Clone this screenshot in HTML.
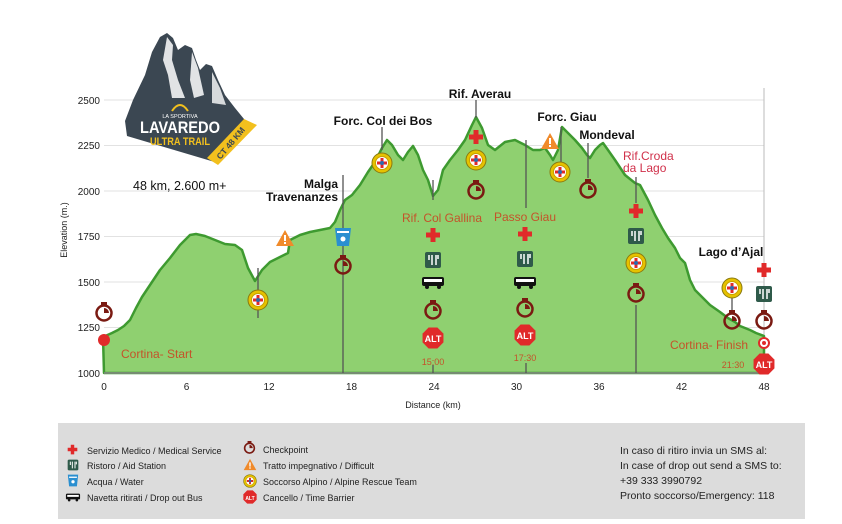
<!DOCTYPE html>
<html><head><meta charset="utf-8"><style>
body{margin:0;background:#fff;width:842px;height:519px;overflow:hidden;font-family:"Liberation Sans",sans-serif}
</style></head><body>
<svg width="842" height="519" viewBox="0 0 842 519" xmlns="http://www.w3.org/2000/svg" font-family="Liberation Sans, sans-serif">
<defs>
<symbol id="cross" viewBox="-8 -8 16 16"><path d="M-2.5-7h5v4.5h4.5v5h-4.5v4.5h-5v-4.5h-4.5v-5h4.5z" fill="#e02a2a"/></symbol>
<symbol id="aid" viewBox="-9 -9 18 18"><rect x="-8" y="-8" width="16" height="16" rx="2" fill="#2f5a4a"/><path d="M-4-5v5M-1-5v10M3-5v10M5-5v4" stroke="#fff" stroke-width="1.5"/></symbol>
<symbol id="water" viewBox="-9 -10 18 20"><path d="M-8-9h16l-2 18h-12z" fill="#2a8fd0"/><rect x="-6" y="-6" width="12" height="2" fill="#fff"/><circle cx="0" cy="2" r="2.5" fill="#fff"/></symbol>
<symbol id="bus" viewBox="-12 -7 24 14"><rect x="-11" y="-6" width="22" height="9" rx="2" fill="#111"/><rect x="-9" y="-4" width="18" height="3" fill="#fff"/><circle cx="-6" cy="4" r="2" fill="#111"/><circle cx="6" cy="4" r="2" fill="#111"/></symbol>
<symbol id="clock" viewBox="-10 -11 20 22"><rect x="-3" y="-10" width="6" height="3" fill="#7a1a12"/><circle cx="0" cy="1" r="7.5" fill="none" stroke="#7a1a12" stroke-width="2.5"/><path d="M0 1V-4A5 5 0 0 1 5 1z" fill="#7a1a12"/></symbol>
<symbol id="warn" viewBox="-10 -9 20 18"><path d="M0-8L9 8H-9z" fill="#f08a2a"/><rect x="-1" y="-3" width="2" height="6" fill="#fff"/><rect x="-1" y="4" width="2" height="2" fill="#fff"/></symbol>
<symbol id="resc" viewBox="-11 -11 22 22"><circle r="10" fill="#e6c200" stroke="#8a7a10" stroke-width="1"/><circle r="6.5" fill="#fff" stroke="#c8a000"/><path d="M-1.5-5h3v3.5h3.5v3h-3.5v3.5h-3v-3.5h-3.5v-3h3.5z" fill="#e02a2a"/><circle r="2" fill="#2a6ab0"/></symbol>
<symbol id="alt" viewBox="-10 -10 20 20"><path d="M-4-9.5h8l5.5 5.5v8l-5.5 5.5h-8l-5.5-5.5v-8z" fill="#e02a2a"/></symbol>
</defs>

<!-- grid -->
<g stroke="#e2e2e2" stroke-width="1">
<line x1="104" x2="764" y1="100" y2="100"/><line x1="104" x2="764" y1="145.5" y2="145.5"/><line x1="104" x2="764" y1="191" y2="191"/><line x1="104" x2="764" y1="236.5" y2="236.5"/><line x1="104" x2="764" y1="282" y2="282"/><line x1="104" x2="764" y1="327.5" y2="327.5"/>
</g>
<line x1="764" y1="88" x2="764" y2="373" stroke="#bbb"/>

<!-- profile -->
<path d="M104,373 L103,337 112,333 118,330 124,326 130,320 136,308 142,297 150,285 160,270 170,258 180,245 190,235 196,234 205,236 215,240 225,244 235,245 242,250 248,268 255,281 262,270 270,262 280,257 288,253 290,240 300,235 310,232 320,230 330,228 335,222 340,210 345,200 352,195 360,185 368,172 375,162 382,148 387,140 392,145 398,155 403,160 408,152 413,146 418,155 423,170 428,180 433,196 438,190 443,170 450,160 458,150 465,140 472,125 476,117 482,128 488,145 495,150 505,142 515,140 525,145 533,150 540,150 545,148 550,155 553,160 558,150 562,127 568,133 575,140 582,148 587,155 590,158 595,150 600,145 603,143 608,150 615,160 625,175 635,183 640,185 648,200 655,215 662,228 668,238 675,248 680,258 685,263 690,280 695,290 700,295 710,305 720,312 728,318 735,322 740,326 750,330 756,333 764,336 764,373 Z" fill="#8fd070" stroke="#3e9a30" stroke-width="2.5" stroke-linejoin="round"/>
<line x1="104" y1="373" x2="764" y2="373" stroke="#888" stroke-width="1.5"/>

<!-- marker lines -->
<g stroke="#555" stroke-width="1.3">
<line x1="343" y1="175" x2="343" y2="373"/>
<line x1="382" y1="127" x2="382" y2="150"/>
<line x1="433" y1="180" x2="433" y2="200"/><line x1="433" y1="365" x2="433" y2="373"/>
<line x1="476" y1="100" x2="476" y2="118"/>
<line x1="526" y1="140" x2="526" y2="208"/><line x1="526" y1="363" x2="526" y2="373"/>
<line x1="561" y1="127" x2="561" y2="165"/>
<line x1="588" y1="143" x2="588" y2="178"/>
<line x1="636" y1="177" x2="636" y2="203"/><line x1="636" y1="305" x2="636" y2="373"/>
<line x1="732" y1="295" x2="732" y2="313"/>
<line x1="258" y1="268" x2="258" y2="318"/>
</g>

<!-- axes labels -->
<g font-size="10" fill="#222" text-anchor="end">
<text x="100" y="104">2500</text><text x="100" y="149">2250</text><text x="100" y="195">2000</text><text x="100" y="240">1750</text><text x="100" y="286">1500</text><text x="100" y="331">1250</text><text x="100" y="377">1000</text>
</g>
<g font-size="10" fill="#222" text-anchor="middle">
<text x="104" y="390">0</text><text x="186.5" y="390">6</text><text x="269" y="390">12</text><text x="351.5" y="390">18</text><text x="434" y="390">24</text><text x="516.5" y="390">30</text><text x="599" y="390">36</text><text x="681.5" y="390">42</text><text x="764" y="390">48</text>
<text x="433" y="408" font-size="9">Distance (km)</text>
</g>
<text transform="translate(67,230) rotate(-90)" font-size="9" text-anchor="middle" fill="#222">Elevation (m.)</text>

<!-- logo -->
<path d="M125,121 L133,100 145,75 152,52 160,37 167,33 173,38 178,50 185,45 192,48 196,60 200,70 206,64 212,66 218,80 225,95 235,108 244,119 252,128 218,163 127,136 Z" fill="#3b4752"/>
<path d="M167,37 L173,45 172,60 178,80 185,98 172,98 168,75 163,60 Z" fill="#fff" opacity="0.85"/>
<path d="M192,52 L198,68 204,95 194,98 190,80 Z" fill="#fff" opacity="0.85"/>
<path d="M212,72 L220,88 226,105 212,103 Z" fill="#fff" opacity="0.8"/>
<path d="M207,158 L244,119 257,125 218,165 Z" fill="#f2c01e"/>
<text x="180" y="133" font-size="17" font-weight="bold" fill="#fff" text-anchor="middle" textLength="80" lengthAdjust="spacingAndGlyphs">LAVAREDO</text>
<text x="180" y="145" font-size="11" font-weight="bold" fill="#f2c01e" text-anchor="middle" textLength="60" lengthAdjust="spacingAndGlyphs">ULTRA TRAIL</text>
<text x="180" y="118" font-size="5.5" fill="#fff" text-anchor="middle">LA SPORTIVA</text>
<path d="M172,111 Q180,99 188,111" fill="none" stroke="#f2c01e" stroke-width="2"/>
<text transform="translate(233,145) rotate(-50)" font-size="8.5" font-weight="bold" fill="#3b4752" text-anchor="middle">CT 48 KM</text>
<text x="133" y="190" font-size="12.5" fill="#111">48 km, 2.600 m+</text>

<!-- place labels -->
<g font-size="12" font-weight="bold" fill="#111">
<text x="383" y="125" text-anchor="middle">Forc. Col dei Bos</text>
<text x="480" y="98" text-anchor="middle">Rif. Averau</text>
<text x="567" y="121" text-anchor="middle">Forc. Giau</text>
<text x="607" y="139" text-anchor="middle">Mondeval</text>
<text x="338" y="188" text-anchor="end">Malga</text>
<text x="338" y="201" text-anchor="end">Travenanzes</text>
<text x="731" y="256" text-anchor="middle">Lago d’Ajal</text>
</g>
<g font-size="12" fill="#c4532a">
<text x="442" y="222" text-anchor="middle">Rif. Col Gallina</text>
<text x="525" y="221" text-anchor="middle">Passo Giau</text>
<text x="121" y="358">Cortina- Start</text>
<text x="748" y="349" text-anchor="end">Cortina- Finish</text>
</g>
<g font-size="12" fill="#d0304a"><text x="623" y="160">Rif.Croda</text><text x="623" y="172">da Lago</text></g>
<g font-size="9" fill="#c4532a" text-anchor="middle"><text x="433" y="365">15:00</text><text x="525" y="361">17:30</text><text x="733" y="368">21:30</text></g>

<!-- icons -->
<use href="#clock" x="94" y="301" width="20" height="22"/>
<circle cx="104" cy="340" r="6" fill="#e02a2a"/>
<use href="#resc" x="247" y="289" width="22" height="22"/>
<use href="#warn" x="275" y="229" width="20" height="18"/>
<use href="#water" x="334" y="227" width="18" height="20"/>
<use href="#clock" x="333" y="254" width="20" height="22"/>
<use href="#resc" x="371" y="152" width="22" height="22"/>

<use href="#cross" x="425" y="227" width="16" height="16"/>
<use href="#aid" x="424" y="251" width="18" height="18"/>
<use href="#bus" x="421" y="276" width="24" height="14"/>
<use href="#clock" x="423" y="299" width="20" height="22"/>
<use href="#alt" x="422" y="327" width="22" height="22"/>
<text x="433" y="342" font-size="9" font-weight="bold" fill="#fff" text-anchor="middle">ALT</text>

<use href="#cross" x="468" y="129" width="16" height="16"/>
<use href="#resc" x="465" y="149" width="22" height="22"/>
<use href="#clock" x="466" y="179" width="20" height="22"/>

<use href="#cross" x="517" y="226" width="16" height="16"/>
<use href="#aid" x="516" y="250" width="18" height="18"/>
<use href="#bus" x="513" y="276" width="24" height="14"/>
<use href="#clock" x="515" y="297" width="20" height="22"/>
<use href="#alt" x="514" y="324" width="22" height="22"/>
<text x="525" y="339" font-size="9" font-weight="bold" fill="#fff" text-anchor="middle">ALT</text>

<use href="#warn" x="540" y="132" width="20" height="18"/>
<use href="#resc" x="549" y="161" width="22" height="22"/>
<use href="#clock" x="578" y="178" width="20" height="22"/>

<use href="#cross" x="628" y="203" width="16" height="16"/>
<use href="#aid" x="627" y="227" width="18" height="18"/>
<use href="#resc" x="625" y="252" width="22" height="22"/>
<use href="#clock" x="626" y="282" width="20" height="22"/>

<use href="#resc" x="721" y="277" width="22" height="22"/>
<use href="#clock" x="722" y="309" width="20" height="22"/>

<use href="#cross" x="756" y="262" width="16" height="16"/>
<use href="#aid" x="755" y="285" width="18" height="18"/>
<use href="#clock" x="754" y="309" width="20" height="22"/>
<circle cx="764" cy="343" r="5" fill="#fff" stroke="#e02a2a" stroke-width="2"/><circle cx="764" cy="343" r="2" fill="#e02a2a"/>
<use href="#alt" x="753" y="353" width="22" height="22"/>
<text x="764" y="368" font-size="9" font-weight="bold" fill="#fff" text-anchor="middle">ALT</text>

<!-- legend -->
<rect x="58" y="423" width="747" height="96" fill="#dcdcdc"/>
<g font-size="9" fill="#222">
<use href="#cross" x="67" y="444" width="11" height="11"/><text x="87" y="454">Servizio Medico / Medical Service</text>
<use href="#aid" x="67" y="459" width="12" height="12"/><text x="87" y="469">Ristoro / Aid Station</text>
<use href="#water" x="67" y="474" width="12" height="13"/><text x="87" y="485">Acqua / Water</text>
<use href="#bus" x="65" y="493" width="16" height="9"/><text x="87" y="501">Navetta ritirati / Drop out Bus</text>
<use href="#clock" x="243" y="440" width="13" height="15"/><text x="263" y="453">Checkpoint</text>
<use href="#warn" x="243" y="458" width="14" height="13"/><text x="263" y="469">Tratto impegnativo / Difficult</text>
<use href="#resc" x="243" y="474" width="14" height="14"/><text x="263" y="485">Soccorso Alpino / Alpine Rescue Team</text>
<use href="#alt" x="243" y="490" width="14" height="14"/><text x="250" y="500" font-size="5" fill="#fff" text-anchor="middle" font-weight="bold">ALT</text><text x="263" y="501">Cancello / Time Barrier</text>
</g>
<g font-size="10.5" fill="#222">
<text x="620" y="454">In caso di ritiro  invia un SMS al:</text>
<text x="620" y="469">In case of drop out  send a SMS to:</text>
<text x="620" y="484">+39 333 3990792</text>
<text x="620" y="499">Pronto soccorso/Emergency: 118</text>
</g>
</svg>
</body></html>
